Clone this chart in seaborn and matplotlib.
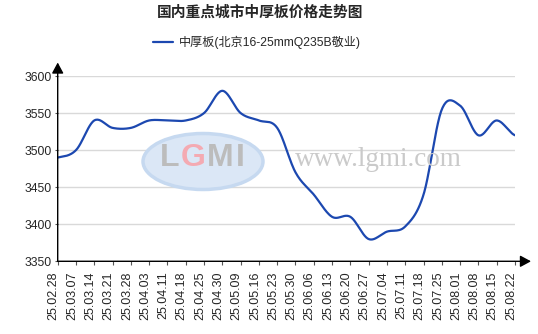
import numpy as np
import pandas as pd
import matplotlib
matplotlib.use("Agg")
import matplotlib.pyplot as plt
import matplotlib.transforms as mtransforms
from matplotlib.patches import Ellipse
import seaborn as sns

# ---- data ----
dates = ["25.02.28", "25.03.07", "25.03.14", "25.03.21", "25.03.28", "25.04.03",
         "25.04.11", "25.04.18", "25.04.25", "25.04.30", "25.05.09", "25.05.16",
         "25.05.23", "25.05.30", "25.06.06", "25.06.13", "25.06.20", "25.06.27",
         "25.07.04", "25.07.11", "25.07.18", "25.07.25", "25.08.01", "25.08.08",
         "25.08.15", "25.08.22"]
prices = [3490, 3500, 3540, 3530, 3530, 3540, 3540, 3540, 3550, 3580, 3550, 3540,
          3530, 3470, 3440, 3410, 3410, 3380, 3390, 3397, 3440, 3555, 3560, 3520,
          3540, 3520]
series_name = "中厚板(北京16-25mmQ235B敬业)"
title = "国内重点城市中厚板价格走势图"
y_ticks = [3350, 3400, 3450, 3500, 3550, 3600]

# ---- smooth curve (Catmull-Rom through the data points) ----
def catmull_rom(vals, n=24):
    v = np.asarray(vals, dtype=float)
    xs, ys = [], []
    for i in range(len(v) - 1):
        p0 = v[i - 1] if i > 0 else v[i]
        p1, p2 = v[i], v[i + 1]
        p3 = v[i + 2] if i + 2 < len(v) else v[i + 1]
        t = np.linspace(0, 1, n, endpoint=False)
        y = 0.5 * (2 * p1 + (-p0 + p2) * t + (2 * p0 - 5 * p1 + 4 * p2 - p3) * t ** 2
                   + (-p0 + 3 * p1 - 3 * p2 + p3) * t ** 3)
        xs.append(i + t)
        ys.append(y)
    xs.append([len(v) - 1])
    ys.append([v[-1]])
    return np.concatenate(xs), np.concatenate(ys)

sx, sy = catmull_rom(prices)
df = pd.DataFrame({"x": sx, "price": sy})

sns.set_style("white")
plt.rcParams["font.family"] = ["Liberation Sans", "Noto Sans CJK SC", "DejaVu Sans"]

W, H = 538, 334
fig = plt.figure(figsize=(W / 100, H / 100), dpi=100)
x0, x1, y_top, y_bot = 57.7, 515.0, 76.0, 261.3
ax = fig.add_axes([x0 / W, (H - y_bot) / H, (x1 - x0) / W, (y_bot - y_top) / H])

# watermark logo
fig.patches.append(Ellipse((203 / W, 1 - 161.5 / H), 120 / W, 56 / H,
                           transform=fig.transFigure, facecolor="#dbe7f6",
                           edgecolor="#c6d9f0", lw=2.5, zorder=0))
for ch, cx, col in [("L", 170.0, "#bcbcbc"), ("G", 193.0, "#f4aab2"),
                    ("M", 220.0, "#bcbcbc"), ("I", 240.5, "#bcbcbc")]:
    fig.text(cx / W, 1 - 157.5 / H, ch, ha="center", va="center", fontsize=23,
             fontweight="bold", color=col, family="Liberation Sans", zorder=1)
fig.text(378 / W, 1 - 160 / H, "www.lgmi.com", ha="center", va="center",
         fontsize=19.5, color="#cacaca", family="Liberation Serif", zorder=1)
ax.patch.set_alpha(0)

sns.lineplot(data=df, x="x", y="price", ax=ax, color="#1c48b0", lw=1.6,
             label=series_name, zorder=3)

ax.set_xlim(0, len(dates) - 1)
ax.set_ylim(y_ticks[0], y_ticks[-1])
ax.set_xticks(range(len(dates)))
ax.set_xticklabels(dates, rotation=90, fontsize=9)
ax.set_yticks(y_ticks)
ax.set_yticklabels([str(v) for v in y_ticks], fontsize=8.7)
ax.set_xlabel("")
ax.set_ylabel("")
ax.yaxis.grid(True, color="#d9d9d9", lw=1)
ax.xaxis.grid(False)
for s in ax.spines.values():
    s.set_visible(False)
ax.tick_params(axis="x", direction="out", length=3, width=0.8, color="#555555",
               pad=4.5, bottom=True)
ax.tick_params(axis="y", direction="out", length=2, width=0.8, color="#555555",
               pad=2.5, left=True)
offset = mtransforms.ScaledTranslation(-4 / 100, 0, fig.dpi_scale_trans)
for lab in ax.get_xticklabels():
    lab.set_transform(lab.get_transform() + offset)

# axis arrows
ap = dict(arrowstyle="-|>,head_length=0.65,head_width=0.35", color="black",
          lw=1.0, shrinkA=0, shrinkB=0)
ax.annotate("", xy=(1 + (531 - x1) / (x1 - x0), 0), xytext=(0, 0),
            xycoords="axes fraction", textcoords="axes fraction",
            arrowprops=ap, annotation_clip=False)
ax.annotate("", xy=(0, 1 + (y_top - 62.5) / (y_bot - y_top)), xytext=(0, 0),
            xycoords="axes fraction", textcoords="axes fraction",
            arrowprops=ap, annotation_clip=False)

fig.text(260.5 / W, 1 - 12 / H, title, ha="center", va="center", fontsize=10.6,
         fontweight="bold", family=["Noto Sans CJK SC", "DejaVu Sans"])

ax.legend(loc="center", bbox_to_anchor=(257 / W, 1 - 42.5 / H),
          bbox_transform=fig.transFigure, frameon=False, fontsize=8.7,
          handlelength=1.6, handletextpad=0.5)

fig.savefig("out.png", dpi=100)
